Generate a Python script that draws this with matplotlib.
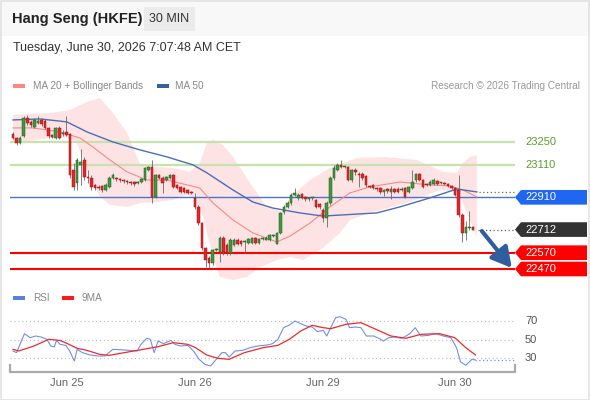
import matplotlib
matplotlib.use("Agg")
import matplotlib.pyplot as plt
import numpy as np
from matplotlib.patches import Rectangle, Polygon
from matplotlib.transforms import blended_transform_factory

plt.rcParams['font.family'] = ['Liberation Sans', 'DejaVu Sans']

# ---- data (30 min candles) ----
opens = [23299, 23274, 23244, 23287, 23397, 23373, 23342, 23367, 23385, 23379,
         23336, 23293, 23274, 23336, 23299, 23311, 23299, 23078, 22998, 23109,
         23139, 23035, 23029, 22986, 22974, 22980, 22955, 22974, 23029, 23029,
         23023, 23016, 23010, 23004, 23004, 22998, 23004, 23016, 23078, 23096,
         22912, 23047, 23029, 23016, 23029, 23047, 22986, 22974, 22967, 22955,
         22943, 22906, 22851, 22752, 22599, 22537, 22507, 22587, 22574, 22660,
         22617, 22568, 22617, 22648, 22642, 22636, 22630, 22630, 22660, 22630,
         22654, 22648, 22648, 22672, 22623, 22691, 22820, 22851, 22875, 22924,
         22906, 22931, 22912, 22900, 22906, 22894, 22869, 22832, 22783, 22875,
         23029, 23078, 23109, 23096, 23096, 23016, 23078, 23053, 23053, 23041,
         22980, 22986, 22967, 22967, 22943, 22961, 22943, 22961, 22961, 22955,
         22967, 22943, 22967, 23016, 23053, 23016, 22992, 22986, 22992, 23010,
         22998, 22998, 22992, 22980, 22967, 22955, 22801, 22691, 22722, 22728]
highs = [23311, 23280, 23287, 23410, 23416, 23385, 23397, 23410, 23397, 23391,
         23342, 23299, 23342, 23348, 23324, 23410, 23305, 23121, 23151, 23207,
         23158, 23078, 23047, 22992, 22986, 22986, 22998, 23041, 23060, 23035,
         23029, 23023, 23016, 23010, 23010, 23010, 23029, 23096, 23102, 23139,
         23053, 23053, 23041, 23041, 23053, 23053, 22992, 22980, 22974, 22961,
         22949, 22937, 22863, 22758, 22605, 22550, 22593, 22599, 22672, 22672,
         22630, 22660, 22660, 22660, 22648, 22648, 22660, 22666, 22666, 22660,
         22666, 22672, 22685, 22685, 22697, 22820, 22863, 22887, 22937, 22967,
         22937, 22937, 22918, 22912, 22912, 22900, 22875, 22844, 22887, 23041,
         23109, 23121, 23139, 23102, 23102, 23084, 23090, 23066, 23066, 23047,
         22986, 22992, 22974, 22974, 22961, 22967, 22980, 22967, 22974, 22974,
         22974, 22980, 23078, 23060, 23060, 23023, 22998, 23016, 23029, 23016,
         23004, 23004, 22998, 22986, 22974, 23047, 22814, 22765, 22826, 22734]
lows = [23268, 23231, 23238, 23280, 23354, 23342, 23336, 23360, 23348, 23330,
        23274, 23274, 23268, 23268, 23287, 23287, 23029, 22955, 22955, 22986,
        23016, 22998, 22955, 22955, 22955, 22943, 22949, 22967, 23023, 23010,
        23004, 22998, 22992, 22986, 22980, 22992, 22998, 23010, 23072, 22875,
        22906, 23023, 22937, 23010, 23023, 22967, 22961, 22937, 22937, 22931,
        22931, 22838, 22740, 22587, 22482, 22476, 22494, 22580, 22513, 22556,
        22556, 22556, 22611, 22617, 22611, 22568, 22623, 22623, 22623, 22623,
        22648, 22648, 22642, 22666, 22623, 22685, 22808, 22844, 22863, 22918,
        22894, 22900, 22887, 22887, 22894, 22844, 22838, 22758, 22728, 22863,
        23016, 23072, 23090, 23090, 23010, 23004, 23047, 22974, 23016, 22974,
        22967, 22961, 22949, 22931, 22918, 22937, 22900, 22937, 22937, 22949,
        22906, 22937, 22961, 23004, 23010, 22967, 22980, 22980, 22986, 22986,
        22992, 22986, 22974, 22961, 22918, 22789, 22636, 22648, 22709, 22709]
closes = [23274, 23244, 23274, 23397, 23367, 23354, 23385, 23379, 23360, 23336,
          23287, 23280, 23336, 23274, 23305, 23293, 23047, 22974, 23139, 23127,
          23035, 23029, 22974, 22967, 22970, 22955, 22986, 23029, 23047, 23023,
          23016, 23010, 23004, 22998, 22992, 23004, 23023, 23090, 23096, 22912,
          23047, 23029, 22998, 23035, 23047, 22974, 22967, 22943, 22943, 22937,
          22937, 22851, 22752, 22599, 22525, 22507, 22587, 22593, 22660, 22574,
          22568, 22648, 22648, 22623, 22623, 22638, 22654, 22660, 22630, 22654,
          22660, 22660, 22679, 22679, 22691, 22814, 22851, 22875, 22924, 22937,
          22924, 22906, 22900, 22903, 22909, 22851, 22851, 22783, 22875, 23029,
          23090, 23109, 23096, 23099, 23016, 23078, 23066, 23047, 23029, 22986,
          22974, 22967, 22964, 22943, 22955, 22949, 22961, 22943, 22943, 22961,
          22912, 22974, 23004, 23053, 23016, 22974, 22986, 23004, 23016, 22992,
          23001, 22992, 22980, 22967, 22924, 22801, 22691, 22728, 22728, 22712]

# moving averages and bands, sampled along the candle index
ma50_at = [0, 7.6, 15.1, 20.8, 28, 35.6, 43.2, 50.5, 54.4, 61.7, 67.3, 72.9,
           80.5, 86.9, 102, 108.5, 116.9, 124.5, 130.1]
ma50_val = [23385, 23391, 23373, 23311, 23250, 23201, 23158, 23109, 23060, 22955,
            22881, 22844, 22814, 22795, 22814, 22851, 22906, 22961, 22943]
ma20_at = [0, 5.6, 13.2, 18.8, 22.4, 27.2, 32, 37.6, 43.2, 48.8, 52.4, 56.1, 61.7,
           67.3, 74, 77.7, 83.3, 88.9, 94.5, 100.1, 108.5, 116.9, 122.5, 126.2, 130.1]
ma20_val = [23336, 23336, 23311, 23274, 23219, 23139, 23066, 23016, 23016, 22986,
            22967, 22875, 22771, 22691, 22636, 22672, 22752, 22851, 22937, 22974,
            23004, 22986, 22980, 22955, 22912]
bb_up_at = [0, 10.4, 16, 20.8, 24.4, 28, 32, 34.8, 35.6, 40.4, 44.9, 49.6, 52.4,
            54.4, 56.1, 58.9, 61.7, 66.5, 71.2, 75.7, 77.7, 83.3, 88.9, 96.5,
            103.8, 113.3, 120.6, 124.5, 126.2, 128.2, 130.1]
bb_up_val = [23416, 23428, 23446, 23496, 23520, 23428, 23305, 23158, 23109, 23096,
             23090, 23066, 23121, 23244, 23262, 23231, 23158, 22998, 22851, 22820,
             22912, 23016, 23090, 23151, 23158, 23139, 23066, 23060, 23121, 23158,
             23170]
bb_lo_at = [0, 10.4, 15.1, 17.9, 21.6, 24.4, 27.2, 32, 35.6, 40.4, 44.9, 48.8,
            50.5, 53.3, 56.1, 58, 61.7, 65.6, 69.3, 74, 77.7, 81.3, 86.9, 91.7,
            94.5, 100.9, 110.5, 119.7, 124.5, 126.2, 130.1]
bb_lo_val = [23244, 23274, 23280, 23244, 23035, 22912, 22863, 22851, 22875, 22881,
             22894, 22924, 22912, 22789, 22544, 22421, 22402, 22421, 22482, 22525,
             22544, 22525, 22599, 22691, 22771, 22820, 22875, 22955, 22943, 22875,
             22666]

resistances = [23250, 23110]
pivot = 22910
last_price = 22712
supports = [22570, 22470]

rsi_at = [0, 1, 3.2, 4.8, 6.4, 7.9, 9.5, 10.6, 11.6, 12.2, 13.2, 14.8, 15.9, 17.2,
          18, 19.5, 21.6, 23.8, 25.8, 28, 30, 32.7, 34.8, 35.9, 37.5, 38.5, 39.6,
          40.7, 42.2, 44.3, 45.4, 47, 49, 50.6, 52.2, 53.8, 55.4, 57, 58.6, 59.6,
          60.6, 62.3, 64.4, 66.5, 68.6, 71.2, 72.8, 74.3, 75.9, 77.5, 79.1, 80.7,
          82.3, 83.9, 85.4, 87, 88, 89.1, 90.5, 91.7, 93.4, 94.4, 95.9, 97.6, 99.1,
          101.2, 102.8, 103.9, 105.4, 107, 109.1, 111.3, 112.8, 114.4, 116.5,
          118.6, 120.7, 122.8, 124.4, 125.5, 127, 128.7, 129.7]
rsi_val = [37.6, 35.8, 56.3, 52, 53.8, 52.7, 50.2, 43, 42, 49, 44.8, 43.7, 37.6,
           26.8, 39.4, 35.8, 33.3, 32.2, 32.2, 39.4, 39, 38.3, 37.6, 44.8, 51.3,
           50.2, 35.8, 48.4, 45.5, 49.1, 44.8, 43, 43.7, 37.6, 28.6, 23.2, 21.4,
           28.6, 35.8, 35.8, 31, 37.6, 38.3, 41.2, 43, 44, 45.5, 50.2, 62.8, 65.7,
           70, 67.1, 64.6, 63.5, 58.5, 59.9, 53.8, 62.8, 73.6, 74.7, 71.8, 62.8,
           63.5, 62.8, 53.8, 53.8, 50.9, 48.4, 52, 52.7, 51.3, 56.3, 62.8, 53.8,
           54.5, 56.3, 53.8, 52, 41.2, 26, 22.1, 28.6, 27.9]
rsi_ma_at = [0, 1.6, 5.9, 10, 13.2, 15.3, 18, 20.7, 24.3, 27, 31.2, 36, 40.7, 45,
             49, 51.2, 54.3, 57.5, 60.6, 64.9, 70.2, 74.3, 77.5, 80.7, 83.9, 87,
             89.1, 93.4, 97.6, 101.8, 106, 110.2, 114.4, 119.7, 123.9, 127, 129.7]
rsi_ma_val = [39.4, 37.6, 43, 50.2, 49, 45.5, 40.5, 38.3, 34, 32.9, 35.8, 39, 42.3,
              46.6, 44.8, 41.2, 33.3, 29.7, 28.6, 35.8, 41.2, 43.7, 50.2, 59.2,
              65.3, 62.8, 61.7, 66.4, 68.2, 61, 53.8, 51.3, 55.6, 56.3, 52, 41.2,
              33.3]
rsi_levels = [70, 50, 30]

day_ticks = [15, 51, 87, 124]
day_labels = ["Jun 25", "Jun 26", "Jun 29", "Jun 30"]

# ---- layout in pixel units of a 590x400 canvas ----
W, H = 590, 400


def fx(x):
    return x / W


def fy(y):
    return 1 - y / H


fig = plt.figure(figsize=(W / 100, H / 100), dpi=100)
fig.patch.set_facecolor("white")

# header band and frame
fig.add_artist(Rectangle((0, fy(36)), 1, 36 / H, transform=fig.transFigure,
                         fc="#f8f8f8", ec="none", zorder=0))
fig.add_artist(Rectangle((0.001, 0.001), 0.998, 0.997, transform=fig.transFigure,
                         fc="none", ec="#e2e2e2", lw=1.2, zorder=0))
fig.text(fx(12), fy(19), "Hang Seng (HKFE)", fontsize=10.5, fontweight="bold",
         color="#222222", va="center")
fig.add_artist(Rectangle((fx(144), fy(31)), 51 / W, 24 / H, transform=fig.transFigure,
                         fc="#ebebeb", ec="none"))
fig.text(fx(169.5), fy(19), "30 MIN", fontsize=9, color="#333333", ha="center", va="center")
fig.text(fx(13), fy(48), "Tuesday, June 30, 2026 7:07:48 AM CET", fontsize=9,
         color="#333333", va="center")

# legends
fig.add_artist(Rectangle((fx(13), fy(88)), 12 / W, 4 / H, transform=fig.transFigure,
                         fc="#ff8585", ec="none"))
fig.text(fx(33), fy(86), "MA 20 + Bollinger Bands", fontsize=7.2, color="#888888", va="center")
fig.add_artist(Rectangle((fx(157), fy(88)), 12 / W, 4 / H, transform=fig.transFigure,
                         fc="#3a5f9e", ec="none"))
fig.text(fx(175), fy(86), "MA 50", fontsize=7.2, color="#888888", va="center")
fig.text(fx(580), fy(86), "Research \u00a9 2026 Trading Central", fontsize=7.2,
         color="#999999", va="center", ha="right")

fig.add_artist(Rectangle((fx(13), fy(300)), 12 / W, 4 / H, transform=fig.transFigure,
                         fc="#5b7fe0", ec="none"))
fig.text(fx(33), fy(298), "RSI", fontsize=7.2, color="#888888", va="center")
fig.add_artist(Rectangle((fx(62), fy(300)), 12 / W, 4 / H, transform=fig.transFigure,
                         fc="#ff1a1a", ec="none"))
fig.text(fx(82), fy(298), "9MA", fontsize=7.2, color="#888888", va="center")

# ---- price panel ----
ax = fig.add_axes([fx(10), fy(283), fx(515) - fx(10), fy(95) - fy(283)])
ax.set_axis_off()
ax.set_xlim(-0.84, 140.8)
ax.set_ylim(22384, 23538)

ax.fill(np.r_[bb_up_at, bb_lo_at[::-1]], np.r_[bb_up_val, bb_lo_val[::-1]],
        color="#fde3e3", lw=0, zorder=1)

for lvl in resistances:
    ax.axhline(lvl, color="#c8e1ad", lw=1.6, zorder=2)
ax.axhline(pivot, color="#4a74cf", lw=1.0, zorder=2)
for lvl in supports:
    ax.axhline(lvl, color="#ff0000", lw=1.5, zorder=2)

ax.plot(ma20_at, ma20_val, color="#f48a8a", lw=0.8, zorder=3)
ax.plot(ma50_at, ma50_val, color="#4b6fb3", lw=1.0, zorder=3)

o = np.array(opens, float)
h = np.array(highs, float)
lo = np.array(lows, float)
c = np.array(closes, float)
x = np.arange(len(c))
up = c >= o
ax.vlines(x, lo, h, color="#6a6a6a", lw=0.6, zorder=4)
body = np.maximum(np.abs(c - o), 4)
ax.bar(x[up], body[up], bottom=o[up], width=0.72, color="#3c9b3c",
       edgecolor="#1f5a1f", lw=0.35, zorder=5)
ax.bar(x[~up], body[~up], bottom=c[~up] - (body[~up] - (o[~up] - c[~up])), width=0.72,
       color="#e2262a", edgecolor="#9a1414", lw=0.35, zorder=5)

# leaders to the right-hand labels
ax.plot([130.4, 140.8], [last_price, last_price], ls=(0, (1, 2)), color="#666666",
        lw=0.9, clip_on=False, zorder=3)
ax.plot([130.8, 140.8], [ma50_val[-1], ma50_val[-1]], ls=(0, (1, 2)), color="#666666",
        lw=0.9, clip_on=False, zorder=3)

ax.annotate("", xy=(139.9, 22476), xytext=(131.5, 22703), annotation_clip=False,
            arrowprops=dict(arrowstyle="-|>,head_width=0.55,head_length=1.0",
                            mutation_scale=12, color="#2f5e9e", lw=3.0,
                            shrinkA=0, shrinkB=0), zorder=7)

tr = blended_transform_factory(fig.transFigure, ax.transData)
for lvl in resistances:
    ax.text(fx(525), lvl, f"{lvl}", transform=tr, fontsize=8, color="#5aa02c",
            va="center", ha="left", clip_on=False)

hh = 45
for lvl, col in [(pivot, "#1f66f2"), (last_price, "#333333"),
                 (supports[0], "#ff0000"), (supports[1], "#ff0000")]:
    poly = Polygon([(fx(515), lvl), (fx(521), lvl + hh), (fx(587), lvl + hh),
                    (fx(587), lvl - hh), (fx(521), lvl - hh)], closed=True,
                   transform=tr, fc=col, ec="none", clip_on=False, zorder=6)
    ax.add_patch(poly)
    ax.text(fx(525), lvl, f"{lvl}", transform=tr, fontsize=8, color="white",
            va="center", ha="left", clip_on=False, zorder=8)

# ---- RSI panel ----
ax2 = fig.add_axes([fx(10), fy(372), fx(515) - fx(10), fy(305) - fy(372)])
ax2.set_xlim(-0.84, 140.8)
ax2.set_ylim(14.9, 87.3)
for s in ax2.spines.values():
    s.set_visible(False)
ax2.set_yticks([])
for lvl in rsi_levels:
    ax2.axhline(lvl, color="#bbbbbb", lw=0.8, ls=(0, (1, 2.5)))
ax2.plot(rsi_at, rsi_val, color="#7090e8", lw=0.8)
ax2.plot([rsi_at[-1], 140.8], [rsi_val[-1], rsi_val[-1]], color="#7090e8", lw=0.9,
         ls=(0, (1, 2)))
ax2.plot(rsi_ma_at, rsi_ma_val, color="#ee2a2a", lw=0.9)
tr2 = blended_transform_factory(fig.transFigure, ax2.transData)
for lvl in rsi_levels:
    ax2.text(fx(525), lvl, f"{lvl}", transform=tr2, fontsize=8, color="#555555",
             va="center", ha="left", clip_on=False)
ax2.plot([0, 0, 1, 1], [0.1, 0, 0, 0.1], transform=ax2.transAxes, color="#aaaaaa",
         lw=1.6, clip_on=False)
ax2.set_xticks(day_ticks)
ax2.set_xticklabels(day_labels)
ax2.tick_params(axis="x", length=0, pad=4, labelsize=8, colors="#666666")

fig.savefig("out.png", dpi=100)
